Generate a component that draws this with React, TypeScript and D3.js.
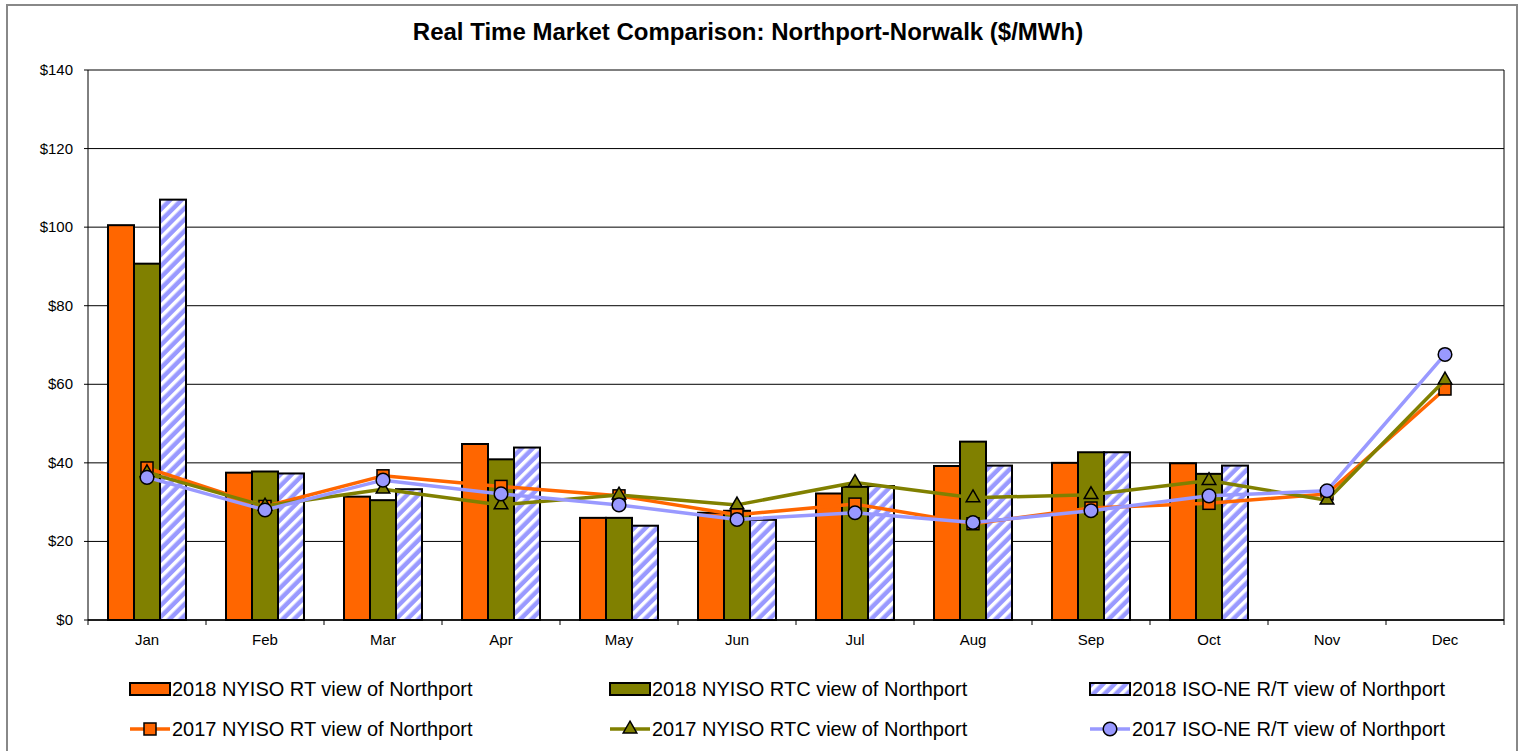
import * as d3 from 'd3';

const months = ['Jan', 'Feb', 'Mar', 'Apr', 'May', 'Jun', 'Jul', 'Aug', 'Sep', 'Oct', 'Nov', 'Dec'];

// 2018 bars (Jan-Oct)
const rt2018 = [100.5, 37.5, 31.4, 44.8, 26.0, 27.3, 32.2, 39.2, 40.0, 39.9];
const rtc2018 = [90.7, 37.8, 30.5, 40.9, 26.0, 27.8, 33.9, 45.4, 42.7, 37.2];
const isone2018 = [107.0, 37.3, 33.3, 43.9, 24.0, 25.5, 34.1, 39.3, 42.7, 39.3];

// 2017 lines (full year)
const rt2017 = [38.7, 28.9, 36.7, 34.0, 31.6, 26.8, 29.5, 24.5, 28.5, 29.7, 32.1, 58.8];
const rtc2017 = [37.5, 29.0, 33.3, 29.3, 31.8, 29.3, 35.0, 31.1, 31.9, 35.5, 30.5, 61.1];
const isone2017 = [36.3, 28.0, 35.6, 32.1, 29.3, 25.6, 27.3, 24.8, 27.8, 31.6, 32.9, 67.6];

const yTicks = [0, 20, 40, 60, 80, 100, 120, 140];

const ORANGE = '#FF6600';
const OLIVE = '#808000';
const LAVENDER = '#9999FF';

const barSeries = [
  { key: 'rt', name: '2018 NYISO RT view of Northport', values: rt2018, fill: ORANGE },
  { key: 'rtc', name: '2018 NYISO RTC view of Northport', values: rtc2018, fill: OLIVE },
  { key: 'isone', name: '2018 ISO-NE R/T view of Northport', values: isone2018, fill: 'url(#hatch)' },
];

const lineSeries = [
  { key: 'rt', name: '2017 NYISO RT view of Northport', values: rt2017, color: ORANGE, marker: 'square' },
  { key: 'rtc', name: '2017 NYISO RTC view of Northport', values: rtc2017, color: OLIVE, marker: 'triangle' },
  { key: 'isone', name: '2017 ISO-NE R/T view of Northport', values: isone2017, color: LAVENDER, marker: 'circle' },
];

const left = 88;
const right = 1504;
const top = 70;
const bottom = 620;

function Marker({ type, x, y, color }: { type: string; x: number; y: number; color: string }) {
  if (type === 'square') {
    return <rect x={x - 6} y={y - 6} width={12} height={12} fill={color} stroke="#000" strokeWidth={1.5} />;
  }
  if (type === 'triangle') {
    const tri = d3.symbol().type(d3.symbolTriangle).size(80)();
    return <path d={tri || ''} transform={`translate(${x},${y})`} fill={color} stroke="#000" strokeWidth={1.5} />;
  }
  return <circle cx={x} cy={y} r={6.8} fill={color} stroke="#000" strokeWidth={1.5} />;
}

export default function App() {
  const x = d3.scaleBand<string>().domain(months).range([left, right]).padding(0);
  const bw = x.bandwidth();
  const inner = d3
    .scaleBand<string>()
    .domain(barSeries.map((s) => s.key))
    .range([(bw - 78) / 2, (bw + 78) / 2]);
  const y = d3.scaleLinear().domain([0, 140]).range([bottom, top]);

  const line = d3
    .line<number>()
    .x((_, i) => (x(months[i]) as number) + bw / 2)
    .y((d) => y(d));

  const legendCols = [130, 610, 1090];
  const legendRows = [689, 729];

  return (
    <svg width={1522} height={751} style={{ position: 'absolute', left: 0, top: 0, background: '#fff' }}
      fontFamily="'Liberation Sans', Arial, sans-serif">
      <defs>
        <pattern id="hatch" width={8} height={8} patternUnits="userSpaceOnUse" patternTransform="rotate(45)">
          <rect width={8} height={8} fill={LAVENDER} />
          <rect width={3.5} height={8} fill="#fff" />
        </pattern>
      </defs>

      <rect x={7} y={5} width={1510} height={800} fill="#fff" stroke="#888" strokeWidth={2} />

      <text x={748} y={40} textAnchor="middle" fontSize={24} fontWeight="bold" fill="#000">
        Real Time Market Comparison: Northport-Norwalk ($/MWh)
      </text>

      {/* gridlines + y axis */}
      {yTicks.map((t) => (
        <g key={t}>
          <line x1={left} x2={right} y1={y(t)} y2={y(t)} stroke="#000" strokeWidth={1} />
          <line x1={left - 4} x2={left} y1={y(t)} y2={y(t)} stroke="#000" strokeWidth={1} />
          <text x={73} y={y(t) + 5} textAnchor="end" fontSize={15} fill="#000">
            ${t}
          </text>
        </g>
      ))}
      <line x1={left} x2={left} y1={top} y2={bottom} stroke="#000" strokeWidth={1} />
      <line x1={right} x2={right} y1={top} y2={bottom} stroke="#000" strokeWidth={1} />

      {/* bars */}
      {barSeries.map((s) =>
        s.values.map((v, i) => (
          <rect
            key={s.key + i}
            x={(x(months[i]) as number) + (inner(s.key) as number)}
            y={y(v)}
            width={inner.bandwidth()}
            height={y(0) - y(v)}
            fill={s.fill}
            stroke="#000"
            strokeWidth={2}
          />
        ))
      )}

      {/* x axis */}
      <line x1={left} x2={right} y1={bottom} y2={bottom} stroke="#000" strokeWidth={1.5} />
      {d3.range(months.length + 1).map((i) => (
        <line key={i} x1={left + i * bw} x2={left + i * bw} y1={bottom} y2={bottom + 5} stroke="#000" strokeWidth={1} />
      ))}
      {months.map((m) => (
        <text key={m} x={(x(m) as number) + bw / 2} y={645} textAnchor="middle" fontSize={15} fill="#000">
          {m}
        </text>
      ))}

      {/* lines */}
      {lineSeries.map((s) => (
        <g key={s.key}>
          <path d={line(s.values) || ''} fill="none" stroke={s.color} strokeWidth={3.5} strokeLinejoin="round" />
          {s.values.map((v, i) => (
            <Marker key={i} type={s.marker} x={(x(months[i]) as number) + bw / 2} y={y(v)} color={s.color} />
          ))}
        </g>
      ))}

      {/* legend */}
      {barSeries.map((s, i) => (
        <g key={'lb' + s.key} transform={`translate(${legendCols[i]},${legendRows[0]})`}>
          <rect x={0} y={-6} width={40} height={12} fill={s.fill} stroke="#000" strokeWidth={2} />
          <text x={42} y={7} fontSize={20} fill="#000">
            {s.name}
          </text>
        </g>
      ))}
      {lineSeries.map((s, i) => (
        <g key={'ll' + s.key} transform={`translate(${legendCols[i]},${legendRows[1]})`}>
          <line x1={0} x2={40} y1={0} y2={0} stroke={s.color} strokeWidth={3.5} />
          <Marker type={s.marker} x={20} y={0} color={s.color} />
          <text x={42} y={7} fontSize={20} fill="#000">
            {s.name}
          </text>
        </g>
      ))}
    </svg>
  );
}
